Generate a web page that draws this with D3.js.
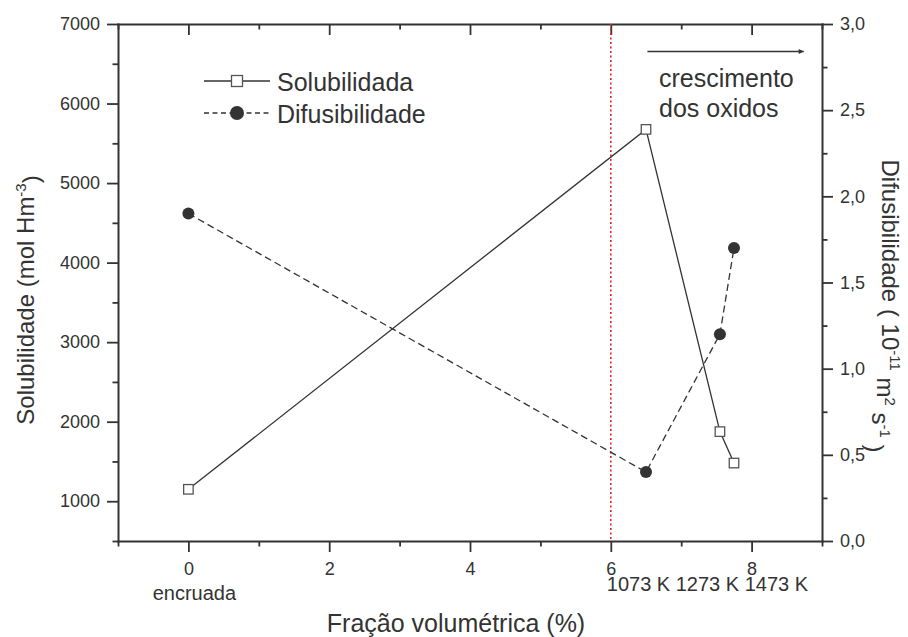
<!DOCTYPE html>
<html>
<head>
<meta charset="utf-8">
<script src="https://cdn.jsdelivr.net/npm/d3@7"></script>
<style>
  body { margin: 0; background: #fff; }
  svg { display: block; font-family: "Liberation Sans", Arial, Helvetica, sans-serif; }
</style>
</head>
<body>
<svg id="chart"></svg>
<script>
// dados
const fracao = [0, 6.5, 7.55, 7.75];
const solubilidade = [1150, 5675, 1875, 1480];
const difusibilidade = [1.9, 0.4, 1.2, 1.7];

const xMajorTicks = [0, 2, 4, 6, 8];
const xMinorTicks = [-1, 1, 3, 5, 7, 9];
const yLeftMajorTicks = [1000, 2000, 3000, 4000, 5000, 6000, 7000];
const yLeftMinorTicks = [500, 1500, 2500, 3500, 4500, 5500, 6500];
const yRightMajorTicks = [0, 0.5, 1.0, 1.5, 2.0, 2.5, 3.0];
const yRightMinorTicks = [0.25, 0.75, 1.25, 1.75, 2.25, 2.75];

const labelEncruada = "encruada";
const labelTemperaturas = "1073 K 1273 K 1473 K";
const legendNames = ["Solubilidada", "Difusibilidade"];
const annotationLines = ["crescimento", "dos oxidos"];
const linhaVertical = 6;

const width = 908, height = 637;
const margin = { top: 24, right: 86, bottom: 96, left: 118 };
const ink = "#333";

const svg = d3.select("#chart").attr("width", width).attr("height", height);

const x = d3.scaleLinear().domain([-1, 9]).range([margin.left, width - margin.right]);
const yL = d3.scaleLinear().domain([500, 7000]).range([height - margin.bottom, margin.top]);
const yR = d3.scaleLinear().domain([0, 3]).range([height - margin.bottom, margin.top]);

const commaFmt = d => d3.format(".1f")(d).replace(".", ",");

// eixos: ticks menores + maiores
function addAxis(make, scale, pos, majors, minors, fmt, pad, fontSize) {
    const gm = svg.append("g").attr("transform", pos)
        .call(make(scale).tickValues(minors).tickSize(5.5).tickSizeOuter(0).tickFormat(""));
    gm.select(".domain").remove();
    const g = svg.append("g").attr("transform", pos)
        .call(make(scale).tickValues(majors).tickSize(11).tickSizeOuter(0).tickPadding(pad).tickFormat(fmt));
    g.attr("font-size", fontSize).attr("font-family", null);
    g.selectAll("text").attr("fill", ink);
    g.select(".domain").attr("stroke", ink).attr("stroke-width", 2).attr("stroke-linecap", "square");
    svg.selectAll(".tick line").attr("stroke", ink).attr("stroke-width", 1.8);
    return g;
}

const yBottom = height - margin.bottom;
addAxis(d3.axisBottom, x, `translate(0,${yBottom})`, xMajorTicks, xMinorTicks, d3.format("d"), 10, 18);
addAxis(d3.axisBottom, x, `translate(0,${margin.top})`, xMajorTicks, xMinorTicks, "", 0, 18);
addAxis(d3.axisLeft, yL, `translate(${margin.left},0)`, yLeftMajorTicks, yLeftMinorTicks, d3.format("d"), 7, 18);
addAxis(d3.axisRight, yR, `translate(${width - margin.right},0)`, yRightMajorTicks, yRightMinorTicks, commaFmt, 7, 18);

// linha vertical pontilhada vermelha
svg.append("line")
    .attr("x1", x(linhaVertical)).attr("x2", x(linhaVertical))
    .attr("y1", yL(7000)).attr("y2", yL(500))
    .attr("stroke", "#e0262b").attr("stroke-width", 1.6)
    .attr("stroke-dasharray", "2,2.5");

// rótulos extras do eixo x
svg.append("text")
    .attr("x", x(0) + 6).attr("y", yBottom + 59)
    .attr("text-anchor", "middle").attr("font-size", 20).attr("fill", ink)
    .text(labelEncruada);
svg.append("text")
    .attr("x", x(linhaVertical) - 4).attr("y", yBottom + 50)
    .attr("font-size", 20).attr("fill", ink)
    .text(labelTemperaturas);

// títulos dos eixos
svg.append("text")
    .attr("x", 456).attr("y", 632)
    .attr("text-anchor", "middle").attr("font-size", 25).attr("fill", ink)
    .text("Fração volumétrica (%)");

const leftTitle = svg.append("text")
    .attr("transform", "translate(34,300) rotate(-90)")
    .attr("text-anchor", "middle").attr("font-size", 24).attr("fill", ink);
leftTitle.append("tspan").text("Solubilidade (mol Hm");
leftTitle.append("tspan").attr("dy", "-0.55em").attr("font-size", 15).text("-3");
leftTitle.append("tspan").attr("dy", "0.55em").text(")");

const rightTitle = svg.append("text")
    .attr("transform", "translate(882,306) rotate(90)")
    .attr("text-anchor", "middle").attr("font-size", 24).attr("fill", ink);
rightTitle.append("tspan").text("Difusibilidade ( 10");
rightTitle.append("tspan").attr("dy", "-0.55em").attr("font-size", 15).text("-11");
rightTitle.append("tspan").attr("dy", "0.55em").text(" m");
rightTitle.append("tspan").attr("dy", "-0.55em").attr("font-size", 15).text("2");
rightTitle.append("tspan").attr("dy", "0.55em").text(" s");
rightTitle.append("tspan").attr("dy", "-0.55em").attr("font-size", 15).text("-1");
rightTitle.append("tspan").attr("dy", "0.55em").text(" )");

// séries
const solData = fracao.map((f, i) => ({ x: f, y: solubilidade[i] }));
const difData = fracao.map((f, i) => ({ x: f, y: difusibilidade[i] }));

svg.append("path")
    .datum(difData)
    .attr("fill", "none").attr("stroke", ink).attr("stroke-width", 1.3)
    .attr("stroke-dasharray", "7,4")
    .attr("d", d3.line().x(d => x(d.x)).y(d => yR(d.y)));

svg.append("path")
    .datum(solData)
    .attr("fill", "none").attr("stroke", ink).attr("stroke-width", 1.3)
    .attr("d", d3.line().x(d => x(d.x)).y(d => yL(d.y)));

svg.selectAll(".dif-pt")
    .data(difData).enter()
    .append("circle")
    .attr("class", "dif-pt")
    .attr("cx", d => x(d.x)).attr("cy", d => yR(d.y))
    .attr("r", 6).attr("fill", ink);

const sq = 9.5;
svg.selectAll(".sol-pt")
    .data(solData).enter()
    .append("rect")
    .attr("class", "sol-pt")
    .attr("x", d => x(d.x) - sq / 2).attr("y", d => yL(d.y) - sq / 2)
    .attr("width", sq).attr("height", sq)
    .attr("fill", "#fff").attr("stroke", "#555").attr("stroke-width", 1.3);

// legenda
const legX = 204, legY = 81, legGap = 32;
legendNames.forEach((name, i) => {
    const yy = legY + i * legGap;
    svg.append("line")
        .attr("x1", legX).attr("x2", legX + 66).attr("y1", yy).attr("y2", yy)
        .attr("stroke", ink).attr("stroke-width", 1.3)
        .attr("stroke-dasharray", i === 1 ? "5,3.5" : null);
    if (i === 0) {
        svg.append("rect")
            .attr("x", legX + 33 - 5.5).attr("y", yy - 5.5)
            .attr("width", 11).attr("height", 11)
            .attr("fill", "#fff").attr("stroke", "#555").attr("stroke-width", 1.3);
    } else {
        svg.append("circle").attr("cx", legX + 33).attr("cy", yy).attr("r", 7).attr("fill", ink);
    }
    svg.append("text")
        .attr("x", legX + 73).attr("y", yy + 9.5)
        .attr("font-size", 25).attr("fill", ink)
        .text(name);
});

// seta + anotação
const arrowY = yR(2.84);
svg.append("defs").append("marker")
    .attr("id", "arrowhead")
    .attr("viewBox", "0 0 10 10").attr("refX", 10).attr("refY", 5)
    .attr("markerWidth", 10).attr("markerHeight", 5)
    .attr("markerUnits", "userSpaceOnUse")
    .attr("orient", "auto")
    .append("path").attr("d", "M0,0 L10,5 L0,10 Z").attr("fill", ink);
svg.append("line")
    .attr("x1", x(6.52)).attr("x2", x(8.74)).attr("y1", arrowY).attr("y2", arrowY)
    .attr("stroke", ink).attr("stroke-width", 1.4)
    .attr("marker-end", "url(#arrowhead)");

annotationLines.forEach((t, i) => {
    svg.append("text")
        .attr("x", 659).attr("y", 87 + i * 30)
        .attr("font-size", 25).attr("fill", ink)
        .text(t);
});
</script>
</body>
</html>
